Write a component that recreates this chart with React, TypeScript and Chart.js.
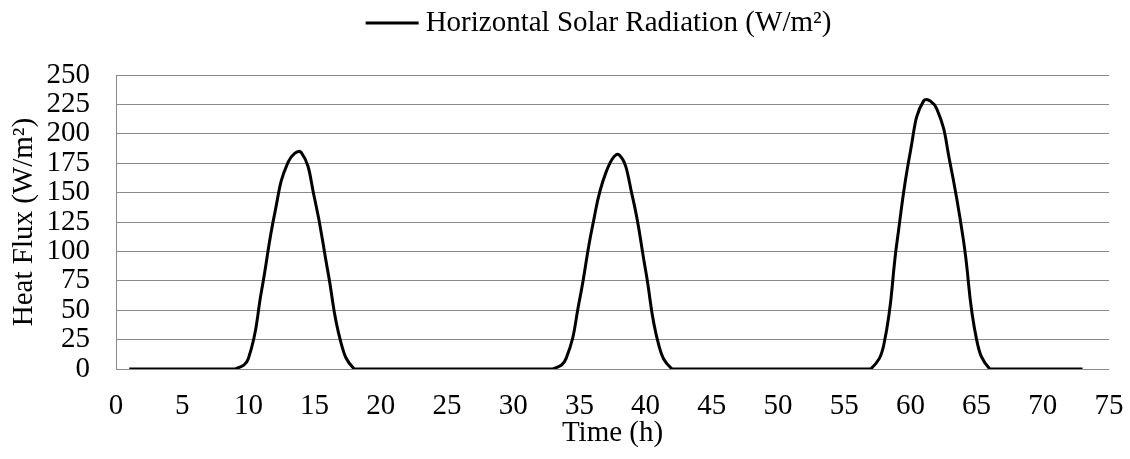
import React, { useEffect, useRef } from 'react';
import { Chart, registerables } from 'chart.js';

Chart.register(...registerables);

// Time in hours
const hours = [
  1, 2, 3, 4, 5, 6, 7, 8, 9, 10,
  11, 12, 13, 14, 15, 16, 17, 18, 19, 20,
  21, 22, 23, 24, 25, 26, 27, 28, 29, 30,
  31, 32, 33, 34, 35, 36, 37, 38, 39, 40,
  41, 42, 43, 44, 45, 46, 47, 48, 49, 50,
  51, 52, 53, 54, 55, 56, 57, 58, 59, 60,
  61, 62, 63, 64, 65, 66, 67, 68, 69, 70,
  71, 72, 73,
];

// Horizontal solar radiation (W/m²)
const radiation = [
  0, 0, 0, 0, 0, 0, 0, 0, 0, 9,
  67, 133, 176, 184, 145, 83, 22, 0, 0, 0,
  0, 0, 0, 0, 0, 0, 0, 0, 0, 0,
  0, 0, 0, 9, 58, 122, 167, 182, 147, 84,
  20, 0, 0, 0, 0, 0, 0, 0, 0, 0,
  0, 0, 0, 0, 0, 0, 0, 21, 109, 185,
  228, 221, 175, 110, 25, 0, 0, 0, 0, 0,
  0, 0, 0,
];

const xMin = 0;
const xMax = 75;
const xStep = 5;
const yMin = 0;
const yMax = 250;
const yStep = 25;

const seriesLabel = 'Horizontal Solar Radiation (W/m²)';
const xTitle = 'Time (h)';
const yTitle = 'Heat Flux (W/m²)';

const FONT_FAMILY = '"Liberation Serif", "Times New Roman", serif';
const FONT_SIZE = 29;
const GRID_COLOR = '#898989';

export default function App() {
  const canvasRef = useRef<HTMLCanvasElement>(null);

  useEffect(() => {
    if (!canvasRef.current) return;

    const legendPlugin = {
      id: 'customLegend',
      afterDraw(chart: any) {
        const ctx = chart.ctx as CanvasRenderingContext2D;
        const ds = chart.data.datasets[0];
        ctx.save();
        ctx.font = `${FONT_SIZE}px ${FONT_FAMILY}`;
        const tw = ctx.measureText(ds.label).width;
        const lineLen = 53;
        const gap = 7;
        const total = lineLen + gap + tw;
        const cx = (chart.chartArea.left + chart.chartArea.right) / 2 - 14;
        const x0 = cx - total / 2;
        const y = 23;
        ctx.strokeStyle = ds.borderColor;
        ctx.lineWidth = ds.borderWidth;
        ctx.beginPath();
        ctx.moveTo(x0, y);
        ctx.lineTo(x0 + lineLen, y);
        ctx.stroke();
        ctx.fillStyle = '#000';
        ctx.textBaseline = 'middle';
        ctx.textAlign = 'left';
        ctx.fillText(ds.label, x0 + lineLen + gap, y);
        ctx.restore();
      },
    };

    const chart = new Chart(canvasRef.current, {
      type: 'line',
      data: {
        datasets: [
          {
            label: seriesLabel,
            data: hours.map((h, i) => ({ x: h, y: radiation[i] })),
            borderColor: '#000000',
            borderWidth: 3,
            pointRadius: 0,
            tension: 0.45,
            fill: false,
          },
        ],
      },
      options: {
        responsive: false,
        animation: false,
        layout: { padding: { left: 4, right: 21, top: 75, bottom: 6 } },
        plugins: {
          legend: { display: false },
          tooltip: { enabled: false },
        },
        scales: {
          x: {
            type: 'linear',
            min: xMin,
            max: xMax,
            ticks: {
              stepSize: xStep,
              autoSkip: false,
              maxRotation: 0,
              padding: 20,
              color: '#000',
              font: { family: FONT_FAMILY, size: FONT_SIZE },
            },
            grid: { display: false, drawTicks: false },
            border: { display: false },
            title: {
              display: true,
              text: xTitle,
              color: '#000',
              font: { family: FONT_FAMILY, size: FONT_SIZE },
              padding: { top: 4, bottom: 2 },
            },
            afterFit: (s: any) => {
              s.height = 84;
              s.paddingLeft = 0;
              s.paddingRight = 0;
            },
          },
          y: {
            type: 'linear',
            min: yMin,
            max: yMax,
            ticks: {
              stepSize: yStep,
              autoSkip: false,
              padding: 26,
              color: '#000',
              font: { family: FONT_FAMILY, size: FONT_SIZE },
            },
            grid: { color: GRID_COLOR, lineWidth: 1, drawTicks: false },
            border: { display: true, color: GRID_COLOR, width: 1 },
            title: {
              display: true,
              text: yTitle,
              color: '#000',
              font: { family: FONT_FAMILY, size: FONT_SIZE },
              padding: { top: 3, bottom: 4 },
            },
            afterFit: (s: any) => {
              s.width = 112;
              s.paddingTop = 0;
              s.paddingBottom = 0;
            },
          },
        },
      },
      plugins: [legendPlugin],
    } as any);

    return () => chart.destroy();
  }, []);

  return (
    <div style={{ position: 'absolute', left: 0, top: 0, width: 1130, height: 459, background: '#fff' }}>
      <canvas ref={canvasRef} width={1130} height={459} />
    </div>
  );
}
